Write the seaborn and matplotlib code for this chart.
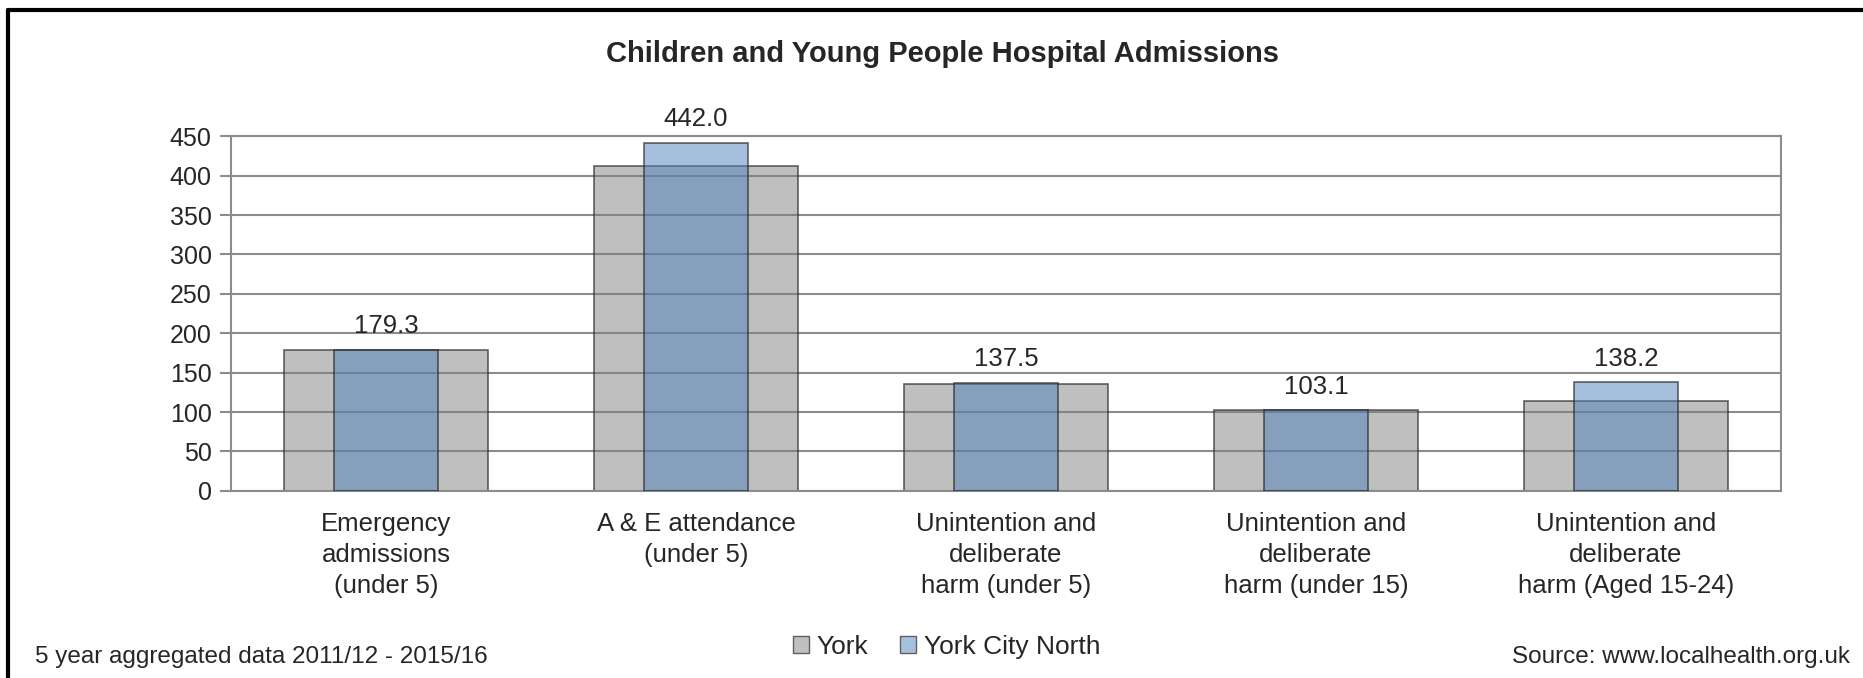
import matplotlib
matplotlib.use("Agg")
from matplotlib import pyplot as plt
from matplotlib.patches import Patch
from matplotlib.lines import Line2D
import pandas as pd
import seaborn as sns

# chart data
categories = [
    "Emergency\nadmissions\n(under 5)",
    "A & E attendance\n(under 5)",
    "Unintention and\ndeliberate\nharm (under 5)",
    "Unintention and\ndeliberate\nharm (under 15)",
    "Unintention and\ndeliberate\nharm (Aged 15-24)",
]
york = [179.0, 412.0, 135.5, 102.5, 114.0]
york_city_north = [179.3, 442.0, 137.5, 103.1, 138.2]
y_ticks = [0, 50, 100, 150, 200, 250, 300, 350, 400, 450]

df = pd.DataFrame({"category": categories, "York": york, "York City North": york_city_north})

sns.set_style("white")
plt.rcParams["font.family"] = ["Liberation Sans", "DejaVu Sans"]

grey_face = (0.5, 0.5, 0.5, 0.5)
blue_face = (0x4F / 255, 0x81 / 255, 0xBD / 255, 0.5)
edge = (0.15, 0.15, 0.15, 0.7)

fig, ax = plt.subplots(figsize=(18.63, 6.78), dpi=100)
fig.subplots_adjust(left=0.124, right=0.956, bottom=0.276, top=0.799)

sns.barplot(data=df, x="category", y="York", color="grey", width=0.66, ax=ax, zorder=2)
n_york = len(ax.patches)
sns.barplot(data=df, x="category", y="York City North", color="steelblue", width=0.335, ax=ax, zorder=3)

for i, p in enumerate(ax.patches):
    p.set_alpha(None)
    p.set_facecolor(grey_face if i < n_york else blue_face)
    p.set_edgecolor(edge)
    p.set_linewidth(1.2)

for i, v in enumerate(york_city_north):
    ax.annotate(f"{v:.1f}", (i, v), xytext=(0, 8), textcoords="offset points",
                ha="center", va="bottom", fontsize=18.5)

ax.set_ylim(0, 450)
ax.set_xlim(-0.5, len(categories) - 0.5)
ax.set_yticks(y_ticks)
ax.yaxis.grid(True, color="#8c8c8c", linewidth=1.5, zorder=1)
ax.set_axisbelow(True)
ax.set_xlabel("")
ax.set_ylabel("")

ax.set_xticks(range(len(categories)))
ax.set_xticklabels(categories, fontsize=18.5, linespacing=1.38)
ax.set_xticks([i - 0.5 for i in range(len(categories) + 1)], minor=True)
ax.tick_params(axis="x", which="major", length=0, pad=15)
ax.tick_params(axis="x", which="minor", length=8, width=1.5, color="#8c8c8c", direction="out")
ax.tick_params(axis="y", length=8, width=1.5, color="#8c8c8c", direction="out", labelsize=18, pad=6)
ax.tick_params(bottom=True, left=True)

for side in ["left", "right", "bottom", "top"]:
    ax.spines[side].set_color("#8c8c8c")
    ax.spines[side].set_linewidth(1.5)

fig.text(0.506, 0.920, "Children and Young People Hospital Admissions",
         ha="center", va="center", fontsize=21, fontweight="bold")

handles = [
    Patch(facecolor="#c0c0c0", edgecolor="#606060", label="York"),
    Patch(facecolor="#a7c0df", edgecolor="#606060", label="York City North"),
]
fig.legend(handles=handles, loc="center", bbox_to_anchor=(0.508, 0.046), ncol=2,
           frameon=False, fontsize=19, handlelength=0.6, handleheight=0.6,
           handletextpad=0.3, columnspacing=1.2)

fig.text(0.0188, 0.031, "5 year aggregated data 2011/12 - 2015/16", ha="left", va="center", fontsize=17.5)
fig.text(0.993, 0.031, "Source: www.localhealth.org.uk", ha="right", va="center", fontsize=17.5)

# black frame lines on left and top
fig.add_artist(Line2D([0.0045, 0.0045], [0, 0.985], color="black", linewidth=3, transform=fig.transFigure))
fig.add_artist(Line2D([0.0045, 1], [0.985, 0.985], color="black", linewidth=3, transform=fig.transFigure))

fig.savefig("out.png", dpi=100)
